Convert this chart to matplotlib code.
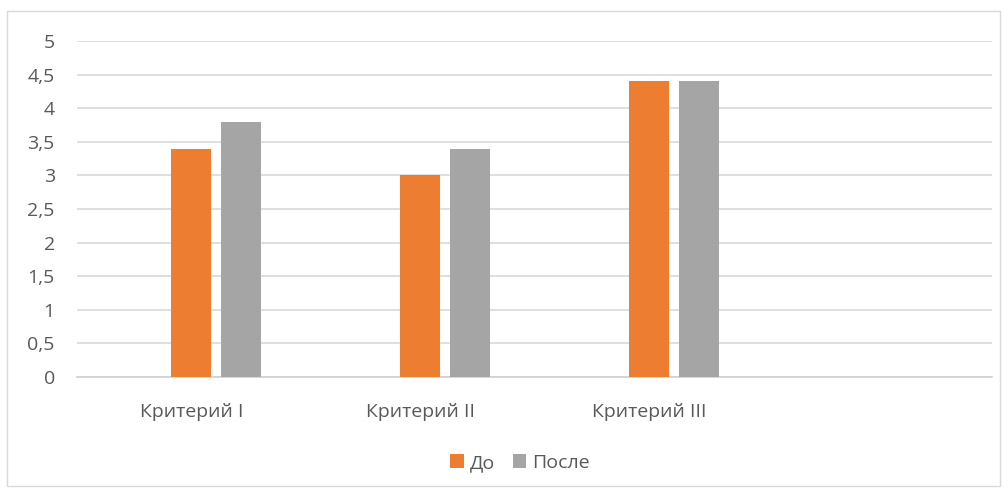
import numpy as np
import matplotlib.pyplot as plt
from matplotlib.patches import Rectangle

categories = ["Критерий I", "Критерий II", "Критерий III", ""]
before = [3.4, 3.0, 4.4, np.nan]
after = [3.8, 3.4, 4.4, np.nan]
series_names = ["До", "После"]
y_ticks = [0, 0.5, 1, 1.5, 2, 2.5, 3, 3.5, 4, 4.5, 5]

plt.rcParams['font.family'] = ['Open Sans', 'DejaVu Sans']
text_col = '#595959'
fs = 14

fig = plt.figure(figsize=(10.08, 4.94), dpi=100)
ax = fig.add_axes([0.0764, 0.2368, 0.9076, 0.6802])

x = np.arange(len(categories))
w = 0.175
ax.bar(x, before, width=w, color='#ed7d31', label=series_names[0], zorder=3)
ax.bar(x + 0.219, after, width=w, color='#a5a5a5', label=series_names[1], zorder=3)

ax.set_xlim(-0.5, 3.5)
ax.set_ylim(0, 5)
ax.set_yticks(y_ticks)
ax.set_yticklabels([f"{t:g}".replace('.', ',') for t in y_ticks])
ax.set_xticks(x)
ax.set_xticklabels(categories)
ax.tick_params(axis='both', length=0, colors=text_col, labelsize=fs)
ax.tick_params(axis='x', pad=19)
ax.tick_params(axis='y', pad=16)
ax.grid(axis='y', color='#d9d9d9', linewidth=1.2, zorder=0)
for side in ['top', 'right', 'left']:
    ax.spines[side].set_visible(False)
ax.spines['bottom'].set_color('#d0d0d0')
ax.spines['bottom'].set_linewidth(1.2)

fig.legend(loc='center', bbox_to_anchor=(0.516, 0.063), ncol=2, frameon=False,
           fontsize=fs, labelcolor=text_col, handlelength=0.7, handleheight=0.7,
           handletextpad=0.3, columnspacing=0.9)

# chart frame
fig.add_artist(Rectangle((7 / 1008, 1 - 486 / 494), 993 / 1008, 475 / 494,
                         transform=fig.transFigure, fill=False,
                         edgecolor='#d9d9d9', linewidth=1.0))

fig.savefig('out.png', dpi=100)
